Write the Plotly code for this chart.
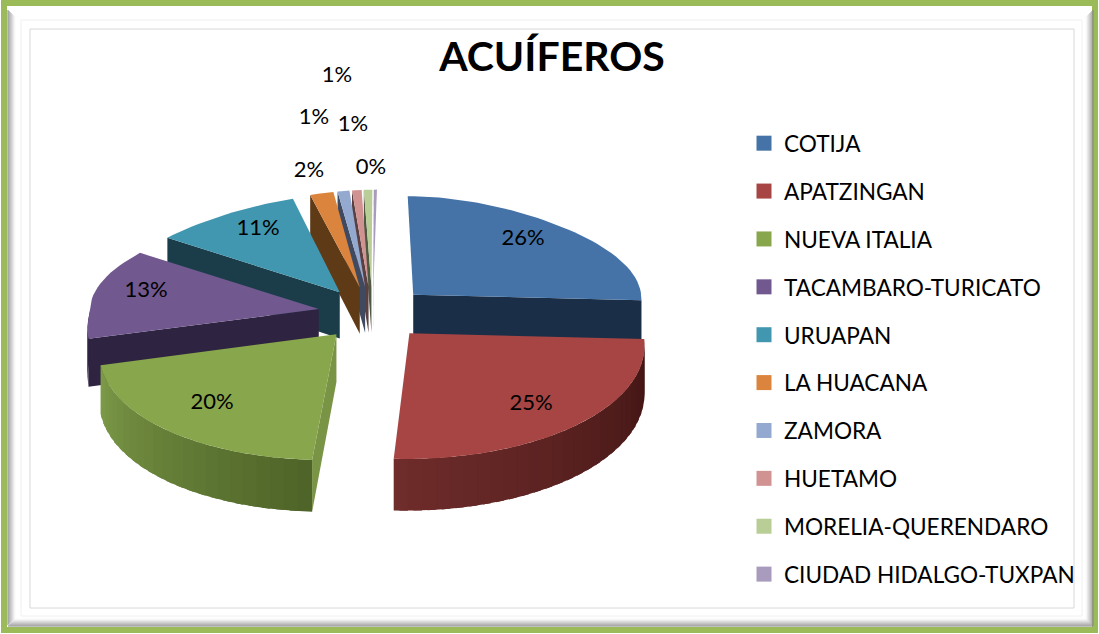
import math
import plotly.graph_objects as go

# ---- data ----
categories = ["COTIJA", "APATZINGAN", "NUEVA ITALIA", "TACAMBARO-TURICATO", "URUAPAN",
              "LA HUACANA", "ZAMORA", "HUETAMO", "MORELIA-QUERENDARO", "CIUDAD HIDALGO-TUXPAN"]
values = [25.8, 25.0, 20.0, 13.1, 10.9, 2.1, 1.1, 0.9, 0.8, 0.3]
title_text = "ACUÍFEROS"

# ---- styles ----
top_colors = ["#4573A7", "#A64543", "#88A64B", "#71588F", "#4097AF",
              "#DB843D", "#93A9CF", "#D19392", "#B9CD96", "#A99BBD"]
side_colors = ["#1A2E48", "#471A18", "#7A9445", "#2E2340", "#1A3D49",
               "#5E3A17", "#3F4A60", "#5A4040", "#4F5840", "#463F50"]
wall_from = {1: "#3F1413", 2: "#4F6428", 3: "#2E2340", 0: "#1A2E48"}
wall_to = {1: "#6E2C2A", 2: "#7C9A48", 3: "#2E2340", 0: "#1A2E48"}
label_pos = [(523, 239), (531, 404), (212, 403), (146, 291), (258, 229),
             (309, 171), (314, 118), (337, 76), (353, 125), (371, 168)]

W, H = 1099, 634
CX, CY, RX, RY = 373, 313, 229, 112
EXPLODE, PX_FRONT, PX_BACK, PY = 0.24, 0.12, 0.17, 0.09
SKEW_FRONT, SKEW_BACK = 7, 3.5
FONT = "Lato"


def project(th, mid, r=1.0, drop=False):
    X = EXPLODE * math.sin(mid) + r * math.sin(th)
    Y = -EXPLODE * math.cos(mid) - r * math.cos(th)
    if Y >= 0:
        scale, skew = 1 + PX_FRONT * Y, SKEW_FRONT
    else:
        scale, skew = 1 - PX_BACK * Y * Y, SKEW_BACK
    sx = CX + RX * X * scale - skew * Y
    sy = CY + RY * Y * (1 + PY * Y)
    if drop:
        sy += 47 + 4 * Y
    return sx, sy


def mix(a, b, t):
    ca = [int(a[i:i + 2], 16) for i in (1, 3, 5)]
    cb = [int(b[i:i + 2], 16) for i in (1, 3, 5)]
    return "#" + "".join(f"{round(p + (q - p) * t):02x}" for p, q in zip(ca, cb))


def poly(pts, color, group):
    xs = [p[0] for p in pts] + [pts[0][0]]
    ys = [p[1] for p in pts] + [pts[0][1]]
    return go.Scatter(x=xs, y=ys, mode="lines", fill="toself", fillcolor=color,
                      line=dict(color=color, width=0), showlegend=False,
                      legendgroup=group, hoverinfo="skip")


total = sum(values)
spans, acc = [], 0.0
for v in values:
    a0 = acc / total * 2 * math.pi
    acc += v
    spans.append((a0, acc / total * 2 * math.pi))

fig = go.Figure()
# legend entries
for name, col in zip(categories, top_colors):
    fig.add_trace(go.Scatter(x=[None], y=[None], mode="markers", name=name, legendgroup=name,
                             marker=dict(symbol="square", size=15, color=col)))

# slices, back to front
order = sorted(range(len(values)), key=lambda i: -math.cos(sum(spans[i]) / 2))
for i in order:
    a0, a1 = spans[i]
    mid = (a0 + a1) / 2
    name = categories[i]
    apex_t, apex_b = project(mid, mid, 0), project(mid, mid, 0, True)
    if math.sin(a0) < 0:  # start wall faces the viewer
        fig.add_trace(poly([apex_t, project(a0, mid), project(a0, mid, 1, True), apex_b],
                           side_colors[i], name))
    if math.sin(a1) > 0:  # end wall faces the viewer
        fig.add_trace(poly([apex_t, project(a1, mid), project(a1, mid, 1, True), apex_b],
                           side_colors[i], name))
    lo, hi = max(a0, math.pi / 2), min(a1, 3 * math.pi / 2)
    if hi > lo:
        n = max(1, int((hi - lo) / math.radians(3)))
        step = (hi - lo) / n
        for k in range(n):
            t0 = lo + step * k
            t1 = min(hi, t0 + step * 1.6)  # slight overlap hides the seams
            sub = [t0 + (t1 - t0) * j / 3 for j in range(4)]
            col = mix(wall_from.get(i, side_colors[i]), wall_to.get(i, side_colors[i]), k / max(1, n - 1))
            fig.add_trace(poly([project(t, mid) for t in sub] +
                               [project(t, mid, 1, True) for t in reversed(sub)], col, name))
    n = max(3, int((a1 - a0) / math.radians(2)))
    arc = [project(a0 + (a1 - a0) * k / n, mid) for k in range(n + 1)]
    fig.add_trace(poly([apex_t] + arc, top_colors[i], name))

# percentage labels
fig.add_trace(go.Scatter(x=[p[0] for p in label_pos], y=[p[1] for p in label_pos], mode="text",
                         text=[f"{round(v / total * 100)}%" for v in values],
                         textposition="middle center", showlegend=False, hoverinfo="skip",
                         textfont=dict(family=FONT, size=22, color="#000000")))

# frame
shapes = [dict(type="rect", x0=4, y0=3, x1=1095, y1=630, line=dict(color="#9BBB59", width=6),
               fillcolor="#FFFFFF", layer="below")]
for k in range(8):
    g = 130 + k * 17
    c = f"rgb({g},{g},{g})"
    shapes.append(dict(type="line", x0=8 + k, y0=10 + k, x1=8 + k, y1=625 - k, line=dict(color=c, width=1), layer="below"))
    shapes.append(dict(type="line", x0=1093 - k, y0=10 + k, x1=1093 - k, y1=626 - k, line=dict(color=c, width=1), layer="below"))
    shapes.append(dict(type="line", x0=8 + k, y0=626 - k, x1=1093 - k, y1=626 - k, line=dict(color=c, width=1), layer="below"))
shapes.append(dict(type="rect", x0=21, y0=20, x1=1082, y1=616, line=dict(color="#F0F0F0", width=1), layer="below"))
shapes.append(dict(type="rect", x0=30, y0=29, x1=1074, y1=608, line=dict(color="#D8D8D8", width=1), layer="below"))

fig.update_layout(
    width=W, height=H, autosize=False, margin=dict(l=0, r=0, t=0, b=0),
    paper_bgcolor="#FFFFFF", plot_bgcolor="rgba(0,0,0,0)",
    xaxis=dict(range=[0, W], visible=False, fixedrange=True),
    yaxis=dict(range=[H, 0], visible=False, fixedrange=True),
    shapes=shapes,
    title=dict(text=title_text, x=552 / W, y=1 - 57 / H, xanchor="center", yanchor="middle",
               font=dict(family=FONT, size=41, color="#000000", weight="bold")),
    legend=dict(x=744 / W, y=1 - 122 / H, xanchor="left", yanchor="top", bgcolor="rgba(0,0,0,0)",
                tracegroupgap=15.5, font=dict(family=FONT, size=22.6, color="#000000"),
                traceorder="grouped", itemclick=False, itemdoubleclick=False),
)
fig.write_html("out.html", config=dict(displayModeBar=False),
               post_script="document.body.style.margin='0';document.body.style.overflow='hidden';")
